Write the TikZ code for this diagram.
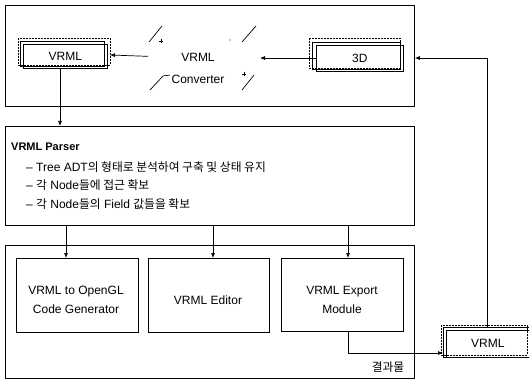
\documentclass[tikz,border=0pt]{standalone}
\usepackage{fontspec}
\setmainfont{Liberation Sans}
\newfontfamily\kr{Noto Sans CJK KR}[Scale=0.98]
\usetikzlibrary{arrows.meta}
\begin{document}
\begin{tikzpicture}[x=1pt,y=-1pt,
  font=\fontsize{12}{14}\selectfont,
  frame/.style={draw, line width=0.8pt, inner sep=0pt, anchor=north west},
  box/.style={draw, line width=0.7pt, inner sep=0pt, anchor=north west, align=center},
  arr/.style={-{Latex[length=5pt,width=4pt]}, line width=0.7pt},
  ln/.style={line width=0.7pt},
  dsh/.style={line width=0.5pt, dash pattern=on 2pt off 1pt},
  txt/.style={inner sep=0pt, anchor=west}]
\useasboundingbox (0,0) rectangle (529,382);
\fill[white] (0,0) rectangle (529,382);

% outer frames
\node[frame, minimum width=409pt, minimum height=101pt] (top) at (5,5) {};
\node[frame, minimum width=409pt, minimum height=99pt] (parser) at (5,126) {};
\node[frame, minimum width=409pt, minimum height=133pt] (bottom) at (5,245) {};

% top VRML stacked box
\draw[dsh] (18,38) rectangle (110,65);
\draw[ln] (20,41) rectangle (104,66);
\node[box, minimum width=84pt, minimum height=24pt] (v1) at (23,44) {VRML};

% 3D stacked box
\draw[dsh] (309,38) rectangle (400,68);
\draw[ln] (312,42) rectangle (400,69);
\node[box, minimum width=87pt, minimum height=26pt] (d3) at (316,45) {3D};

% converter
\node[inner sep=0pt, minimum width=110pt, minimum height=66pt, anchor=north west] (conv) at (148,26) {};
\node[txt, anchor=center] (c1) at (198,57) {VRML};
\node[txt, anchor=center] (c2) at (198,79) {Converter};
\draw[ln] (149,42) -- (162,26);
\draw[ln] (242,42) -- (256,26);
\draw[ln] (150,90) -- (163,76) -- (170,75);
\draw[ln] (242,90) -- (254,75);
\draw[line width=0.5pt] (159,41) -- (163,41) (161,39) -- (161,43);
\draw[line width=0.5pt] (242,74) -- (246,74) (244,72) -- (244,76);
\fill (230,40) circle (0.6pt);

% arrows in top
\draw[arr] (conv.west |- v1.east) -- (110,55);
\draw[arr] (d3.west |- 0,58) -- (260,58);

% parser text
\node[txt, font=\fontsize{11}{13}\selectfont\bfseries] (ptitle) at (11,147) {VRML Parser};
\node[txt] (p1) at (26,167) {– Tree ADT{\kr 의 형태로 분석하여 구축 및 상태 유지}};
\node[txt] (p2) at (26,185) {– {\kr 각} Node{\kr 들에 접근 확보}};
\node[txt] (p3) at (26,204) {– {\kr 각} Node{\kr 들의} Field {\kr 값들을 확보}};

% bottom boxes
\node[box, minimum width=122pt, minimum height=74pt] (b1) at (16,258) {};
\node[box, minimum width=121pt, minimum height=74pt] (b2) at (148,258) {};
\node[box, minimum width=122pt, minimum height=73pt] (b3) at (281,258) {};
\node[txt, anchor=center] (b1a) at (76,292) {VRML to OpenGL};
\node[txt, anchor=center] (b1b) at (76,309) {Code Generator};
\node[txt, anchor=center] (b2a) at (208,300) {VRML Editor};
\node[txt, anchor=center] (b3a) at (342,292) {VRML Export};
\node[txt, anchor=center] (b3b) at (342,309) {Module};
\node[txt, anchor=center] (res) at (388,367) {\kr 결과물};

% bottom-right VRML stacked box
\draw[dsh] (441,325) rectangle (527,355);
\draw[ln] (443,327) rectangle (529,357);
\node[box, minimum width=83pt, minimum height=27pt] (v2) at (446,330) {VRML};

% connectors
\draw[arr] (v1.south -| 60,0) -- (parser.north -| 60,0);
\draw[arr] (parser.south -| 66,0) -- (b1.north -| 66,0);
\draw[arr] (parser.south -| 213,0) -- (b2.north -| 213,0);
\draw[arr] (parser.south -| 348,0) -- (b3.north -| 348,0);
\coordinate (k1) at (348,353);
\draw[arr] (b3.south -| k1) -- (k1) -- (443,353);
\coordinate (k2) at (487,58);
\draw[arr] (487,327) -- (k2) -- (top.east |- k2);
\end{tikzpicture}
\end{document}
